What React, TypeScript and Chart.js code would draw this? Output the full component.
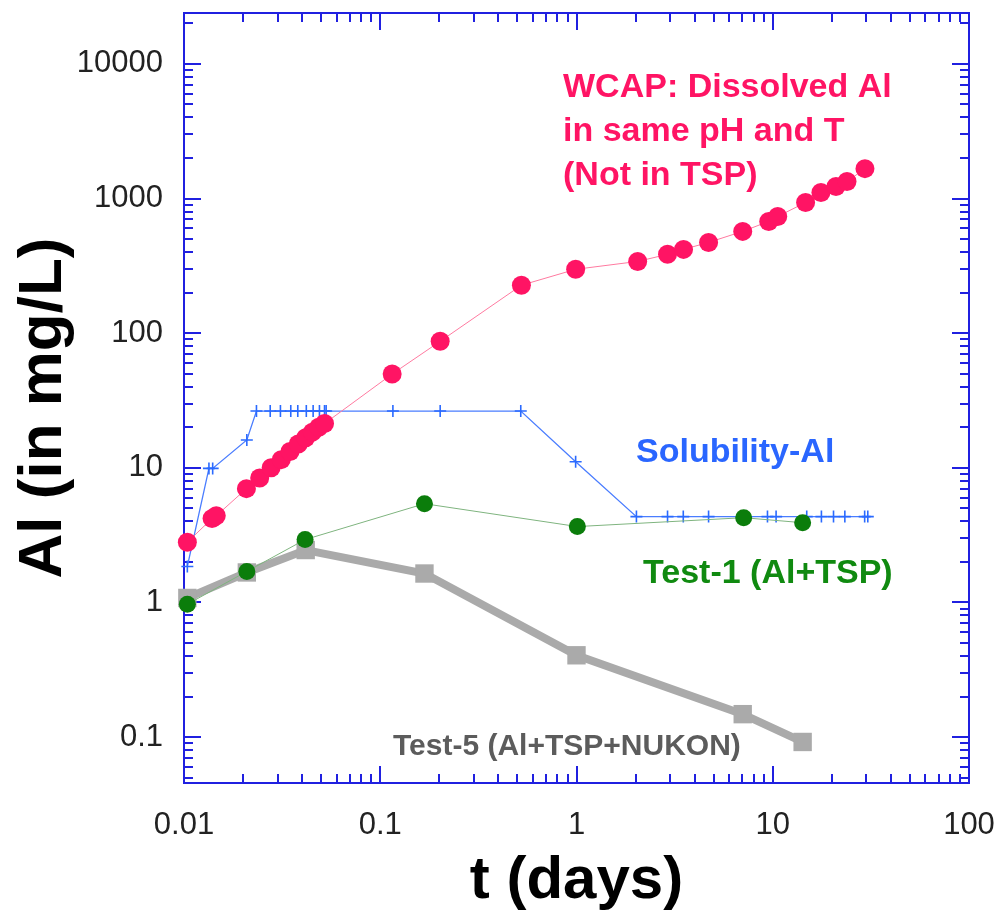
import React, { useEffect, useRef } from 'react';
import { Chart, registerables } from 'chart.js';

Chart.register(...registerables);

const FONT = "'Liberation Sans', Arial, Helvetica, sans-serif";

// WCAP: Dissolved Al in same pH and T (Not in TSP)
const wcapT = [0.0104, 0.0139, 0.0146, 0.0208, 0.0243, 0.0278, 0.0313, 0.0347, 0.0382, 0.0417, 0.0451, 0.0486, 0.052,
  0.115, 0.202, 0.524, 0.99, 2.05, 2.91, 3.51, 4.71, 7.03, 9.54, 10.6, 14.7, 17.6, 21.0, 23.9, 29.5];
const wcapAl = [2.8, 4.2, 4.4, 7.0, 8.4, 10.0, 11.5, 13.2, 15.0, 16.7, 18.4, 20.0, 21.3,
  49.7, 87, 227, 298, 341, 385, 419, 472, 570, 676, 736, 934, 1108, 1227, 1336, 1667];

// Solubility-Al
const solT = [0.0104, 0.0134, 0.014, 0.0209, 0.0234, 0.0275, 0.031, 0.035, 0.038, 0.042, 0.0455, 0.049, 0.052, 0.053,
  0.116, 0.202, 0.52, 0.99, 2.02, 2.91, 3.5, 4.71, 7.1, 9.4, 10.4, 14.9, 17.7, 20.4, 23.3, 29.4, 30.5];
const solAl = [1.85, 9.9, 9.9, 16.1, 26.4, 26.4, 26.4, 26.4, 26.4, 26.4, 26.4, 26.4, 26.4, 26.4,
  26.4, 26.4, 26.4, 11.1, 4.34, 4.34, 4.34, 4.34, 4.34, 4.34, 4.34, 4.34, 4.34, 4.34, 4.34, 4.34, 4.34];

// Test-1 (Al+TSP)
const test1T = [0.0104, 0.0209, 0.0414, 0.168, 1.01, 7.11, 14.2];
const test1Al = [0.97, 1.7, 2.93, 5.41, 3.66, 4.26, 3.91];

// Test-5 (Al+TSP+NUKON)
const test5T = [0.0104, 0.0209, 0.0417, 0.168, 1.0, 7.03, 14.2];
const test5Al = [1.08, 1.67, 2.45, 1.64, 0.405, 0.148, 0.092];

// Axis ticks
const xTickValues = [0.01, 0.1, 1, 10, 100];
const xTickLabels = ['0.01', '0.1', '1', '10', '100'];
const yTickValues = [0.1, 1, 10, 100, 1000, 10000];
const yTickLabels = ['0.1', '1', '10', '100', '1000', '10000'];
const X_MIN = 0.01;
const X_MAX = 100;
const Y_MIN = 0.0456;
const Y_MAX = 23870;

const AXIS_COLOR = '#2020e0';

const pts = (xs: number[], ys: number[]) => xs.map((x, i) => ({ x, y: ys[i] }));

function minorTicks(min: number, max: number): number[] {
  const out: number[] = [];
  for (let e = -3; e <= 5; e++) {
    for (let m = 2; m <= 9; m++) {
      const v = m * Math.pow(10, e);
      if (v > min * 1.0001 && v < max * 0.9999) out.push(v);
    }
  }
  return out;
}

const framePlugin = {
  id: 'frame',
  beforeDatasetsDraw(chart: any) {
    const { ctx, chartArea: a, scales } = chart;
    const xs = scales.x;
    const ys = scales.y;
    ctx.save();
    ctx.strokeStyle = AXIS_COLOR;
    ctx.lineWidth = 2;
    ctx.beginPath();
    const major = 17;
    const minor = 9;
    const xMin = minorTicks(X_MIN, X_MAX);
    const yMin = minorTicks(Y_MIN, Y_MAX);
    const drawX = (v: number, len: number) => {
      const p = Math.round(xs.getPixelForValue(v));
      ctx.moveTo(p, a.bottom);
      ctx.lineTo(p, a.bottom - len);
      ctx.moveTo(p, a.top);
      ctx.lineTo(p, a.top + len);
    };
    const drawY = (v: number, len: number) => {
      const p = Math.round(ys.getPixelForValue(v));
      ctx.moveTo(a.left, p);
      ctx.lineTo(a.left + len, p);
      ctx.moveTo(a.right, p);
      ctx.lineTo(a.right - len, p);
    };
    xTickValues.forEach((v) => drawX(v, major));
    xMin.forEach((v) => drawX(v, minor));
    yTickValues.forEach((v) => drawY(v, major));
    yMin.forEach((v) => drawY(v, minor));
    ctx.stroke();
    ctx.strokeRect(a.left, a.top, a.right - a.left, a.bottom - a.top);
    ctx.restore();
  },
  afterDraw(chart: any) {
    const { ctx, chartArea: a } = chart;
    ctx.save();
    ctx.textAlign = 'left';
    ctx.textBaseline = 'alphabetic';
    ctx.fillStyle = '#ff1464';
    ctx.font = `bold 34px ${FONT}`;
    ctx.fillText('WCAP: Dissolved Al', 563, 97);
    ctx.fillText('in same pH and T', 563, 141);
    ctx.fillText('(Not in TSP)', 563, 185);

    ctx.fillStyle = '#2a66ff';
    ctx.fillText('Solubility-Al', 636, 462);

    ctx.fillStyle = '#108a10';
    ctx.fillText('Test-1 (Al+TSP)', 643, 583);

    ctx.fillStyle = '#5c5c5c';
    ctx.font = `bold 30px ${FONT}`;
    ctx.fillText('Test-5 (Al+TSP+NUKON)', 393, 755);

    ctx.fillStyle = '#000000';
    ctx.font = `bold 60px ${FONT}`;
    ctx.textAlign = 'center';
    ctx.fillText('t (days)', (a.left + a.right) / 2, 898);

    ctx.font = `bold 62px ${FONT}`;
    ctx.translate(61, 408);
    ctx.rotate(-Math.PI / 2);
    ctx.fillText('Al (in mg/L)', 0, 0);
    ctx.restore();
  },
};

export default function App() {
  const ref = useRef<HTMLCanvasElement | null>(null);

  useEffect(() => {
    if (!ref.current) return;
    const chart = new Chart(ref.current, {
      type: 'scatter',
      data: {
        datasets: [
          {
            label: 'Test-1 (Al+TSP)',
            data: pts(test1T, test1Al),
            showLine: true,
            borderColor: '#7fb47f',
            borderWidth: 1,
            pointStyle: 'circle',
            pointRadius: 8.5,
            pointBackgroundColor: '#0b7d0b',
            pointBorderColor: '#0b7d0b',
            pointBorderWidth: 0,
            clip: false,
            order: 0,
          } as any,
          {
            label: 'WCAP',
            data: pts(wcapT, wcapAl),
            showLine: true,
            borderColor: '#ff7aa0',
            borderWidth: 1,
            pointStyle: 'circle',
            pointRadius: 9.5,
            pointBackgroundColor: '#ff1464',
            pointBorderColor: '#ff1464',
            pointBorderWidth: 0,
            clip: false,
            order: 1,
          } as any,
          {
            label: 'Solubility-Al',
            data: pts(solT, solAl),
            showLine: true,
            borderColor: '#4a7dff',
            borderWidth: 1.3,
            pointStyle: 'cross',
            pointRadius: 6,
            pointBorderColor: '#2a6aff',
            pointBackgroundColor: '#2a6aff',
            pointBorderWidth: 1.6,
            clip: false,
            order: 2,
          } as any,
          {
            label: 'Test-5 (Al+TSP+NUKON)',
            data: pts(test5T, test5Al),
            showLine: true,
            borderColor: '#aaaaaa',
            borderWidth: 8,
            pointStyle: 'rect',
            pointRadius: 13,
            pointBackgroundColor: '#aaaaaa',
            pointBorderColor: '#aaaaaa',
            pointBorderWidth: 0,
            clip: false,
            order: 3,
          } as any,
        ],
      },
      options: {
        animation: false,
        responsive: false,
        devicePixelRatio: 1,
        layout: { padding: { left: 0, right: 31, top: 11, bottom: 0 } },
        plugins: {
          legend: { display: false },
          tooltip: { enabled: false },
          title: { display: false },
        },
        scales: {
          x: {
            type: 'logarithmic',
            min: X_MIN,
            max: X_MAX,
            bounds: 'data',
            grid: { display: false, drawTicks: false },
            border: { display: false },
            afterBuildTicks: (scale: any) => {
              scale.ticks = xTickValues.map((v) => ({ value: v }));
            },
            afterFit: (scale: any) => {
              scale.height = 135;
              scale.paddingLeft = 0;
              scale.paddingRight = 0;
              scale.paddingTop = 0;
              scale.paddingBottom = 0;
            },
            ticks: {
              autoSkip: false,
              maxRotation: 0,
              minRotation: 0,
              padding: 24,
              color: '#222222',
              font: { family: FONT, size: 31 },
              callback: (_v: any, i: number) => xTickLabels[i],
            },
          },
          y: {
            type: 'logarithmic',
            min: Y_MIN,
            max: Y_MAX,
            bounds: 'data',
            grid: { display: false, drawTicks: false },
            border: { display: false },
            afterBuildTicks: (scale: any) => {
              scale.ticks = yTickValues.map((v) => ({ value: v }));
            },
            afterFit: (scale: any) => {
              scale.width = 184;
              scale.paddingLeft = 0;
              scale.paddingRight = 0;
              scale.paddingTop = 0;
              scale.paddingBottom = 0;
            },
            ticks: {
              autoSkip: false,
              padding: 21,
              color: '#222222',
              font: { family: FONT, size: 31 },
              callback: (_v: any, i: number) => yTickLabels[i],
            },
          },
        },
      } as any,
      plugins: [framePlugin],
    });
    return () => chart.destroy();
  }, []);

  return (
    <div style={{ position: 'fixed', left: 0, top: 0, width: 1000, height: 918, background: '#ffffff' }}>
      <canvas ref={ref} width={1000} height={918} style={{ width: 1000, height: 918, display: 'block' }} />
    </div>
  );
}
